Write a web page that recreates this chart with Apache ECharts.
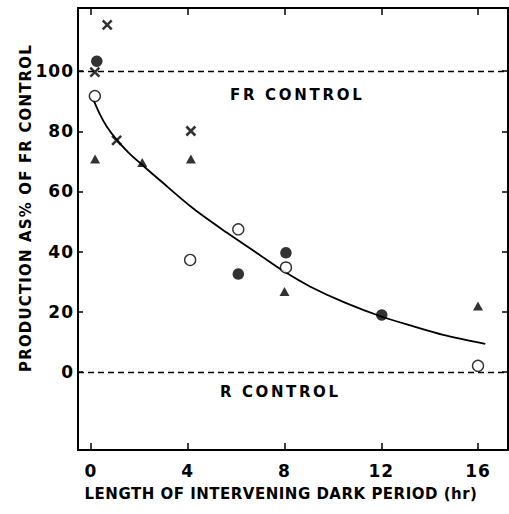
<!DOCTYPE html>
<html><head><meta charset="utf-8">
<script src="https://cdn.jsdelivr.net/npm/echarts@6/dist/echarts.min.js"></script>
<style>html,body{margin:0;padding:0;background:#fff}#c{width:509px;height:514px}</style>
</head><body><div id="c"></div>
<script>
// Data (x = hours of dark period, y = production as % of FR control)
const xTicks = [0, 4, 8, 12, 16];
const yTicks = [0, 20, 40, 60, 80, 100];
const openCircles = [[0.16, 91.7], [4.1, 37.2], [6.09, 47.4], [8.06, 34.7], [16.0, 2.0]];
const filledCircles = [[0.24, 103.3], [6.09, 32.5], [8.06, 39.6], [12.02, 18.9]];
const triangles = [[0.17, 70.8], [2.12, 69.6], [4.13, 70.8], [8.0, 26.7], [16.0, 21.9]];
const crosses = [[0.67, 115.4], [0.16, 99.7], [1.06, 77.0], [4.13, 80.1]];
const fittedCurve = [[0.1, 90.5], [0.37, 85.6], [0.65, 81.6], [1.06, 77.2], [1.54, 73.0], [2.12, 68.8],
  [2.85, 63.7], [4.23, 54.3], [5.61, 46.3], [6.99, 38.8], [7.96, 33.5], [9.05, 28.4], [10.5, 23.0],
  [12.0, 18.4], [13.3, 15.2], [14.56, 12.3], [16.3, 9.3]];
const frControl = 100;
const rControl = 0;

const FONT = 'DejaVu Sans';
const chart = echarts.init(document.getElementById('c'), null, {renderer: 'svg'});
const dashed = {color: '#000', type: [6, 4], width: 1.3};
const tickStyle = {color: '#000', width: 1.5};
const option = {
  animation: false,
  backgroundColor: '#fff',
  grid: {left: 78, right: 1, top: 8, bottom: 64, containLabel: false},
  xAxis: [{
    type: 'value', min: -0.537, max: 17.24, position: 'bottom',
    name: 'LENGTH OF INTERVENING DARK PERIOD (hr)', nameLocation: 'middle', nameGap: 36, nameMoveOverlap: false,
    nameTextStyle: {fontFamily: FONT, fontWeight: 'bold', fontSize: 15, color: '#000', verticalAlign: 'top', padding: [0, 24, 0, 0]},
    axisLine: {onZero: false, lineStyle: {color: '#000', width: 2}},
    axisTick: {inside: true, length: 7, customValues: xTicks, lineStyle: tickStyle},
    axisLabel: {customValues: xTicks, fontFamily: FONT, fontWeight: 'bold', fontSize: 17, color: '#000', margin: 12},
    splitLine: {show: false}
  }, {
    type: 'value', min: -0.537, max: 17.24, position: 'top',
    axisLine: {onZero: false, lineStyle: {color: '#000', width: 2}},
    axisTick: {inside: true, length: 7, customValues: xTicks, lineStyle: tickStyle},
    axisLabel: {show: false}, splitLine: {show: false}
  }],
  yAxis: [{
    type: 'value', min: -26, max: 121, position: 'left',
    name: 'PRODUCTION AS% OF FR CONTROL', nameLocation: 'middle', nameGap: 45, nameRotate: 90, nameMoveOverlap: false,
    nameTextStyle: {fontFamily: FONT, fontWeight: 'bold', fontSize: 15, color: '#000', padding: [0, 0, 0, 42]},
    axisLine: {onZero: false, lineStyle: {color: '#000', width: 2}},
    axisTick: {inside: true, length: 5, customValues: yTicks, lineStyle: tickStyle},
    axisLabel: {customValues: yTicks, fontFamily: FONT, fontWeight: 'bold', fontSize: 17, color: '#000', margin: 4},
    splitLine: {show: false}
  }, {
    type: 'value', min: -26, max: 121, position: 'right',
    axisLine: {onZero: false, lineStyle: {color: '#000', width: 2}},
    axisTick: {inside: true, length: 6, customValues: yTicks, lineStyle: tickStyle},
    axisLabel: {show: false}, splitLine: {show: false}
  }],
  graphic: [
    {type: 'text', left: 230, top: 87, style: {text: 'FR CONTROL', font: 'bold 15px "' + FONT + '"', fill: '#000'}},
    {type: 'text', left: 220, top: 384, style: {text: 'R CONTROL', font: 'bold 15px "' + FONT + '"', fill: '#000'}}
  ],
  series: [
    {type: 'line', name: 'controls', data: [], symbol: 'none', silent: true,
      markLine: {silent: true, symbol: 'none', label: {show: false}, lineStyle: dashed,
        data: [{yAxis: frControl}, {yAxis: rControl}]}},
    {type: 'line', name: 'fit', data: fittedCurve, smooth: 0.3, symbol: 'none', lineStyle: {color: '#000', width: 1.8}, z: 2},
    {type: 'scatter', name: 'open', data: openCircles, symbol: 'circle', symbolSize: 11,
      itemStyle: {color: '#fff', borderColor: '#000', borderWidth: 1.4}, z: 3},
    {type: 'scatter', name: 'filled', data: filledCircles, symbol: 'circle', symbolSize: 11.5,
      itemStyle: {color: '#000'}, z: 3},
    {type: 'scatter', name: 'triangle', data: triangles, symbol: 'triangle', symbolSize: [10, 9],
      itemStyle: {color: '#000'}, z: 3},
    {type: 'scatter', name: 'cross', data: crosses, symbol: 'path://M0,0L10,10M10,0L0,10', symbolSize: 9,
      itemStyle: {color: 'none', borderColor: '#000', borderWidth: 2.6}, z: 3}
  ]
};
chart.setOption(option);

// widen letter spacing to match the original lettering
const spacing = {'FR CONTROL': 2.7, 'R CONTROL': 2.6,
  'LENGTH OF INTERVENING DARK PERIOD (hr)': 0.5, 'PRODUCTION AS% OF FR CONTROL': 1.15};
document.querySelectorAll('#c svg text').forEach(t => {
  const s = spacing[t.textContent];
  t.style.letterSpacing = (s !== undefined ? s : 1) + 'px';
});
</script></body></html>
